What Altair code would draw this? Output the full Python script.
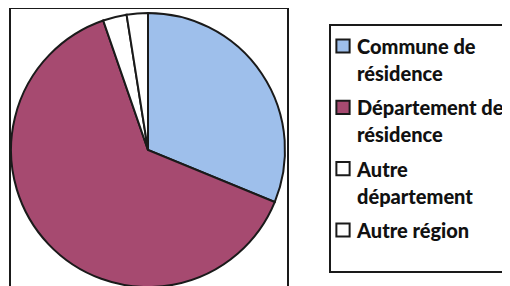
import altair as alt
import pandas as pd

categories = ["Commune de résidence", "Département de résidence", "Autre département", "Autre région"]
shares = [31.2, 63.5, 2.8, 2.5]
legend_labels = ["Commune de\nrésidence", "Département de\nrésidence", "Autre\ndépartement", "Autre région"]
colors = ["#9ebfeb", "#a64a70", "#ffffff", "#ffffff"]

df = pd.DataFrame({
    "cat": categories,
    "share": shares,
    "label": legend_labels,
    "idx": list(range(len(categories))),
})
one = pd.DataFrame({"a": [0]})

color_scale = alt.Scale(domain=categories, range=colors)
y_scale = alt.Scale(domain=categories, range=[38, 222], padding=0)

base = alt.Chart(df)

pie = base.mark_arc(radius=137, stroke="#1a1a1a", strokeWidth=2).encode(
    theta=alt.Theta("share:Q", stack=True),
    color=alt.Color("cat:N", scale=color_scale, legend=None),
    order=alt.Order("idx:Q"),
    x=alt.value(140),
    y=alt.value(142),
)

pie_box = alt.Chart(one).mark_rect(fill="transparent", stroke="#1a1a1a", strokeWidth=2).encode(
    x=alt.value(2), x2=alt.value(280), y=alt.value(0), y2=alt.value(300)
)

legend_box = alt.Chart(one).mark_rect(fill="transparent", stroke="#1a1a1a", strokeWidth=2).encode(
    x=alt.value(322), x2=alt.value(502), y=alt.value(17), y2=alt.value(264)
)

squares = base.mark_square(size=175, filled=True, stroke="#1a1a1a", strokeWidth=2, opacity=1).encode(
    x=alt.value(335),
    y=alt.Y("cat:N", scale=y_scale, axis=None),
    color=alt.Color("cat:N", scale=color_scale, legend=None),
)

texts = base.mark_text(
    align="left", baseline="top", dy=-8, font="Lato", fontWeight=900,
    fontSize=20, lineBreak="\n", lineHeight=27, color="#111111"
).encode(
    x=alt.value(349),
    y=alt.Y("cat:N", scale=y_scale, axis=None),
    text="label:N",
)

chart = alt.layer(pie, pie_box, legend_box, squares, texts).properties(
    width=494, height=278, autosize=alt.AutoSizeParams(type="none"), padding=0
).configure_view(stroke=None)

chart.save("out.html", embed_options={"renderer": "svg", "actions": False})
